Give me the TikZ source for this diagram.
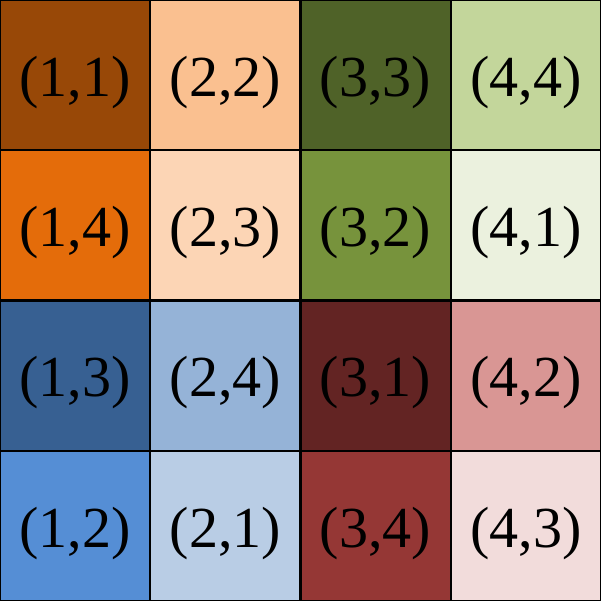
\documentclass[tikz,border=0pt]{standalone}
\usepackage{fontspec}
\setmainfont{Liberation Serif}
\definecolor{c11}{HTML}{984807}
\definecolor{c22}{HTML}{FAC090}
\definecolor{c33}{HTML}{4F6228}
\definecolor{c44}{HTML}{C3D69B}
\definecolor{c14}{HTML}{E46C0A}
\definecolor{c23}{HTML}{FCD5B5}
\definecolor{c32}{HTML}{77933C}
\definecolor{c41}{HTML}{EBF1DE}
\definecolor{c13}{HTML}{376092}
\definecolor{c24}{HTML}{95B3D7}
\definecolor{c31}{HTML}{632423}
\definecolor{c42}{HTML}{D99694}
\definecolor{c12}{HTML}{558ED5}
\definecolor{c21}{HTML}{B9CDE5}
\definecolor{c34}{HTML}{953735}
\definecolor{c43}{HTML}{F2DCDB}
\begin{document}
\begin{tikzpicture}[cell/.style={draw=black,line width=0.6pt,minimum size=1.5cm,inner sep=0pt,outer sep=0pt,text height=15.6pt,text depth=3.5pt,font=\fontsize{16.5}{18}\selectfont}]
\useasboundingbox (0,0) rectangle (6,6);
\node[cell,fill=c11] (n11) at (0.75,5.25) {(1,1)};
\node[cell,fill=c22] (n22) at (2.25,5.25) {(2,2)};
\node[cell,fill=c33] (n33) at (3.75,5.25) {(3,3)};
\node[cell,fill=c44] (n44) at (5.25,5.25) {(4,4)};
\node[cell,fill=c14] (n14) at (0.75,3.75) {(1,4)};
\node[cell,fill=c23] (n23) at (2.25,3.75) {(2,3)};
\node[cell,fill=c32] (n32) at (3.75,3.75) {(3,2)};
\node[cell,fill=c41] (n41) at (5.25,3.75) {(4,1)};
\node[cell,fill=c13] (n13) at (0.75,2.25) {(1,3)};
\node[cell,fill=c24] (n24) at (2.25,2.25) {(2,4)};
\node[cell,fill=c31] (n31) at (3.75,2.25) {(3,1)};
\node[cell,fill=c42] (n42) at (5.25,2.25) {(4,2)};
\node[cell,fill=c12] (n12) at (0.75,0.75) {(1,2)};
\node[cell,fill=c21] (n21) at (2.25,0.75) {(2,1)};
\node[cell,fill=c34] (n34) at (3.75,0.75) {(3,4)};
\node[cell,fill=c43] (n43) at (5.25,0.75) {(4,3)};
\end{tikzpicture}
\end{document}
